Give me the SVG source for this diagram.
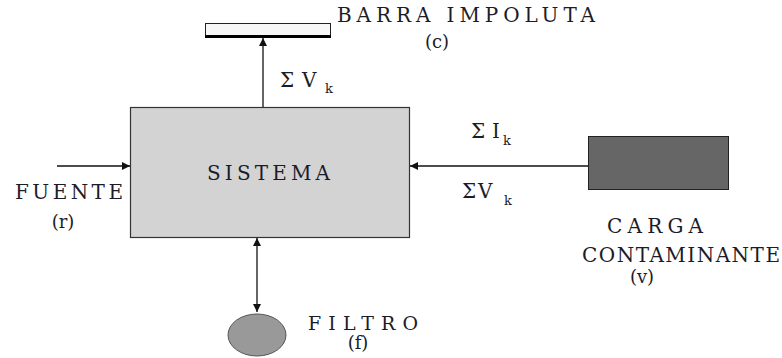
<svg xmlns="http://www.w3.org/2000/svg" width="782" height="358" viewBox="0 0 782 358">
<style>
text{font-family:"DejaVu Serif","Liberation Serif",serif;font-size:20px;fill:#1c1c28}
.p{font-size:18px}
.s19{font-size:19px}
.sub{font-size:13px}
.ln{stroke:#111;stroke-width:1.3;fill:none}
</style>
<defs>
<marker id="ah" viewBox="0 0 10 10" refX="10" refY="5" markerWidth="8" markerHeight="8" markerUnits="userSpaceOnUse" orient="auto-start-reverse">
<path d="M0,0 L10,5 L0,10 z" fill="#111"/>
</marker>
</defs>
<rect width="782" height="358" fill="#fff"/>
<g id="connectors">
<line class="ln" x1="263" y1="107" x2="263" y2="38" marker-end="url(#ah)"/>
<line class="ln" x1="57" y1="166" x2="130" y2="166" marker-end="url(#ah)"/>
<line class="ln" x1="588" y1="166" x2="410" y2="166" marker-end="url(#ah)"/>
<line class="ln" x1="257" y1="238" x2="257" y2="312" marker-start="url(#ah)" marker-end="url(#ah)"/>
<text x="280" y="87">Σ</text><text x="302" y="87">V</text><text class="sub" x="325" y="93">k</text>
<text x="471" y="138">Σ</text><text x="492" y="138">I</text><text class="sub" x="503" y="145">k</text>
<text x="462" y="198">Σ</text><text x="478" y="198">V</text><text class="sub" x="504" y="205">k</text>
</g>
<g id="barra">
<rect x="205.5" y="23.5" width="125" height="13" fill="#f7f7f7" stroke="#222" stroke-width="1"/>
<rect x="205" y="35" width="126" height="3" fill="#000"/>
<text x="337" y="22" textLength="258" lengthAdjust="spacing">BARRA IMPOLUTA</text>
<text class="p" x="437" y="48" text-anchor="middle">(c)</text>
</g>
<g id="sistema">
<rect x="130.5" y="107.5" width="279" height="130" fill="#d3d3d3" stroke="#333" stroke-width="1.2"/>
<text x="207" y="180" textLength="123" lengthAdjust="spacing">SISTEMA</text>
</g>
<g id="fuente">
<text x="15" y="199" textLength="108" lengthAdjust="spacing">FUENTE</text>
<text class="p" x="63" y="228" text-anchor="middle">(r)</text>
</g>
<g id="carga">
<rect x="588.5" y="136.5" width="140" height="53" fill="#666" stroke="#222" stroke-width="1"/>
<text x="607" y="233" textLength="96" lengthAdjust="spacing">CARGA</text>
<text x="582" y="262" textLength="198" lengthAdjust="spacing">CONTAMINANTE</text>
<text class="p" x="642" y="283" text-anchor="middle">(v)</text>
</g>
<g id="filtro">
<ellipse cx="257" cy="335" rx="29" ry="21" fill="#999" stroke="#555" stroke-width="1"/>
<text class="s19" x="308" y="330" textLength="110" lengthAdjust="spacing">FILTRO</text>
<text class="p" x="358" y="349" text-anchor="middle">(f)</text>
</g>
</svg>
